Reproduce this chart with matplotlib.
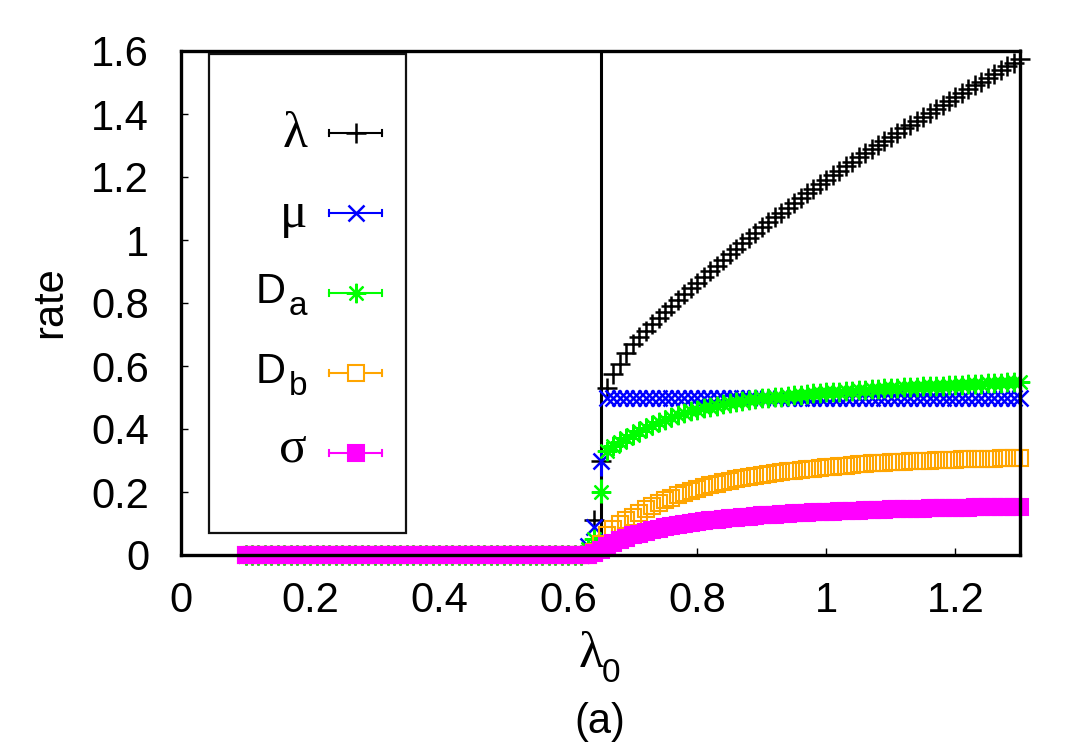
import numpy as np
import matplotlib
matplotlib.use("Agg")
import matplotlib.pyplot as plt
from matplotlib.patches import Rectangle
from matplotlib.lines import Line2D

# ---------------- data ----------------
# sampling grid of lambda_0: 0.10 ... 1.30 (step 0.01)
lambda0 = np.round(np.arange(10, 131) / 100.0, 2)

# values for lambda_0 = 0.10 ... 0.62 are all zero (53 points)
zeros_low = [0.0] * 53

# values for lambda_0 = 0.63 ... 1.30 (68 points)
lam_hi = [0.02, 0.11, 0.30, 0.53, 0.575, 0.607, 0.640,
          0.670, 0.691, 0.712, 0.732, 0.752, 0.772, 0.791, 0.810, 0.829, 0.847,
          0.865, 0.883, 0.901, 0.919, 0.937, 0.955, 0.972, 0.989, 1.006, 1.023,
          1.040, 1.056, 1.072, 1.087, 1.103, 1.118, 1.133, 1.148, 1.163, 1.177,
          1.192, 1.206, 1.220, 1.234, 1.248, 1.262, 1.275, 1.288, 1.302, 1.315,
          1.328, 1.341, 1.354, 1.366, 1.379, 1.392, 1.404, 1.417, 1.429, 1.442,
          1.454, 1.466, 1.478, 1.491, 1.503, 1.515, 1.527, 1.539, 1.551, 1.563,
          1.575]
mu_hi = [0.03, 0.09, 0.30, 0.50, 0.50, 0.50, 0.50,
         0.50, 0.50, 0.50, 0.50, 0.50, 0.50, 0.50, 0.50, 0.50, 0.50,
         0.50, 0.50, 0.50, 0.50, 0.50, 0.50, 0.50, 0.50, 0.50, 0.50,
         0.50, 0.50, 0.50, 0.50, 0.50, 0.50, 0.50, 0.50, 0.50, 0.50,
         0.50, 0.50, 0.50, 0.50, 0.50, 0.50, 0.50, 0.50, 0.50, 0.50,
         0.50, 0.50, 0.50, 0.50, 0.50, 0.50, 0.50, 0.50, 0.50, 0.50,
         0.50, 0.50, 0.50, 0.50, 0.50, 0.50, 0.50, 0.50, 0.50, 0.50,
         0.50]
Da_hi = [0.02, 0.05, 0.20, 0.330, 0.345, 0.358, 0.370,
         0.382, 0.393, 0.403, 0.413, 0.422, 0.430, 0.437, 0.444, 0.450, 0.456,
         0.461, 0.466, 0.470, 0.474, 0.478, 0.482, 0.485, 0.488, 0.491, 0.494,
         0.497, 0.499, 0.501, 0.503, 0.505, 0.507, 0.509, 0.511, 0.513, 0.515,
         0.516, 0.518, 0.519, 0.521, 0.522, 0.524, 0.525, 0.526, 0.528, 0.529,
         0.530, 0.531, 0.532, 0.533, 0.534, 0.535, 0.536, 0.537, 0.538, 0.539,
         0.540, 0.541, 0.542, 0.543, 0.544, 0.545, 0.546, 0.547, 0.548, 0.549,
         0.550]
Db_hi = [0.0, 0.01, 0.035, 0.062, 0.082, 0.097, 0.110,
         0.122, 0.134, 0.145, 0.155, 0.165, 0.174, 0.182, 0.190, 0.197, 0.204,
         0.210, 0.216, 0.221, 0.226, 0.231, 0.236, 0.240, 0.244, 0.248, 0.251,
         0.254, 0.257, 0.260, 0.263, 0.266, 0.268, 0.270, 0.272, 0.274, 0.276,
         0.278, 0.280, 0.282, 0.284, 0.286, 0.288, 0.289, 0.291, 0.292, 0.293,
         0.294, 0.295, 0.296, 0.297, 0.298, 0.299, 0.300, 0.301, 0.302, 0.302,
         0.303, 0.304, 0.304, 0.305, 0.305, 0.306, 0.306, 0.307, 0.307, 0.308,
         0.308]
sigma_hi = [0.0, 0.005, 0.015, 0.028, 0.038, 0.047, 0.055,
            0.062, 0.068, 0.074, 0.079, 0.084, 0.088, 0.092, 0.096, 0.099, 0.102,
            0.105, 0.108, 0.110, 0.112, 0.115, 0.117, 0.119, 0.121, 0.122, 0.124,
            0.126, 0.127, 0.128, 0.130, 0.131, 0.132, 0.133, 0.134, 0.135, 0.136,
            0.137, 0.138, 0.139, 0.140, 0.140, 0.141, 0.142, 0.143, 0.143, 0.144,
            0.145, 0.145, 0.146, 0.146, 0.147, 0.147, 0.148, 0.148, 0.149, 0.149,
            0.150, 0.150, 0.150, 0.151, 0.151, 0.151, 0.152, 0.152, 0.152, 0.153,
            0.153]

lam = zeros_low + lam_hi
mu = zeros_low + mu_hi
Da = zeros_low + Da_hi
Db = zeros_low + Db_hi
sigma = zeros_low + sigma_hi

# error bars at the transition point
err_x = [0.65, 0.65, 0.65]
err_lo = [0.0, 0.25, 0.165]
err_hi = [1.7, 0.33, 0.24]
err_series = ["lam", "mu", "Da"]

x_ticks = [0, 0.2, 0.4, 0.6, 0.8, 1.0, 1.2]
x_ticklabels = ["0", "0.2", "0.4", "0.6", "0.8", "1", "1.2"]
y_ticks = [0, 0.2, 0.4, 0.6, 0.8, 1.0, 1.2, 1.4, 1.6]
y_ticklabels = ["0", "0.2", "0.4", "0.6", "0.8", "1", "1.2", "1.4", "1.6"]

# ---------------- style ----------------
SANS = "Liberation Sans"
SERIF = "Liberation Serif"
FS = 30
GFS = 37  # greek letters (symbol-like font appears larger)

series = [
    dict(key="lam", y=lam, color="#000000", marker="+", ms=15, mew=1.8, fill="full"),
    dict(key="mu", y=mu, color="#0000ff", marker="x", ms=12, mew=1.8, fill="full"),
    dict(key="Da", y=Da, color="#00ff00", marker=(8, 2, 0), ms=14, mew=1.6, fill="full"),
    dict(key="Db", y=Db, color="#ffa500", marker="s", ms=11, mew=1.5, fill="none"),
    dict(key="sigma", y=sigma, color="#ff00ff", marker="s", ms=11, mew=1.5, fill="full"),
]

W, H = 1080, 756
fig = plt.figure(figsize=(W / 100, H / 100), dpi=100)
L, R, T, B = 181, 1020, 51, 555
ax = fig.add_axes([L / W, 1 - B / H, (R - L) / W, (B - T) / H])
ax.set_xlim(0, 1.3)
ax.set_ylim(0, 1.6)

for z, s in enumerate(series):
    zz = 3 + z
    for ex, lo, hi, key in zip(err_x, err_lo, err_hi, err_series):
        if key == s["key"]:
            ax.vlines(ex, lo, hi, colors=s["color"], linewidth=2.2, zorder=zz)
    ax.plot(lambda0, s["y"], linestyle="none", marker=s["marker"],
            markersize=s["ms"], markeredgewidth=s["mew"], color=s["color"],
            markerfacecolor=(s["color"] if s["fill"] == "full" else "none"),
            markeredgecolor=s["color"], clip_on=False, zorder=zz)

for sp in ax.spines.values():
    sp.set_linewidth(2.4)
    sp.set_zorder(20)

ax.set_xticks(x_ticks)
ax.set_xticklabels(x_ticklabels, fontfamily=SANS, fontsize=FS)
ax.set_yticks(y_ticks)
ax.set_yticklabels(y_ticklabels, fontfamily=SANS, fontsize=FS)
ax.tick_params(axis="both", direction="in", length=5, width=1.0,
               top=False, right=False)
ax.tick_params(axis="x", pad=19)
ax.tick_params(axis="y", pad=23)

# ---------------- overlay in pixel coordinates ----------------
ov = fig.add_axes([0, 0, 1, 1], facecolor="none")
ov.set_xlim(0, W)
ov.set_ylim(H, 0)
ov.axis("off")

# axis labels
ov.text(50, 302, "rate", rotation=90, ha="center", va="center",
        fontfamily=SANS, fontsize=FS)
ov.text(603, 667, "λ", ha="right", va="baseline", fontfamily=SERIF, fontsize=GFS)
ov.text(602, 682, "0", ha="left", va="baseline", fontfamily=SANS, fontsize=FS * 0.8)
ov.text(600, 733, "(a)", ha="center", va="baseline", fontfamily=SANS, fontsize=FS)

# legend box
ov.add_patch(Rectangle((209, 54), 406 - 209, 533 - 54, fill=False,
                       edgecolor="#111111", linewidth=1.6, zorder=5))

rows = [133, 213, 293, 373, 453]
legend_text = [("λ", None, SERIF, 147), ("μ", None, SERIF, 227),
               ("D", "a", SANS, 303), ("D", "b", SANS, 383), ("σ", None, SERIF, 461)]
for s, ry, (main, sub, fam, base) in zip(series, rows, legend_text):
    c = s["color"]
    if sub is None:
        ov.text(307, base, main, ha="right", va="baseline", fontfamily=fam, fontsize=GFS)
    else:
        ov.text(286, base, main, ha="right", va="baseline", fontfamily=fam, fontsize=FS)
        ov.text(289, base + 12, sub, ha="left", va="baseline", fontfamily=fam,
                fontsize=FS * 0.8)
    ov.add_line(Line2D([329, 382], [ry, ry], color=c, linewidth=1.5))
    ov.add_line(Line2D([329, 329], [ry - 3, ry + 3], color=c, linewidth=1.5))
    ov.add_line(Line2D([382, 382], [ry - 3, ry + 3], color=c, linewidth=1.5))
    ov.add_line(Line2D([355.5], [ry], linestyle="none", marker=s["marker"],
                       markersize=s["ms"], markeredgewidth=s["mew"],
                       markeredgecolor=c,
                       markerfacecolor=(c if s["fill"] == "full" else "white")))

fig.savefig("out.png", dpi=100)
